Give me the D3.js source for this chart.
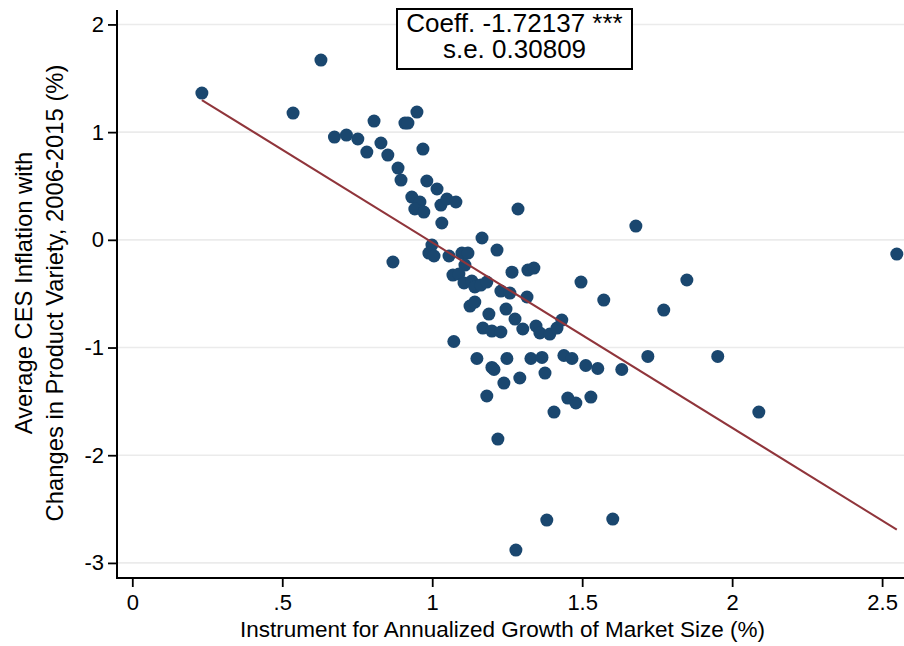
<!DOCTYPE html>
<html>
<head>
<meta charset="utf-8">
<script src="https://cdn.jsdelivr.net/npm/d3@7"></script>
<style>
  html, body { margin: 0; padding: 0; background: #ffffff; }
  svg { display: block; }
  text { font-family: "Liberation Sans", Arial, Helvetica, sans-serif; fill: #000; }
</style>
</head>
<body>
<script>
// ---- Data ----
const instrumentX = [
  0.232, 0.536, 0.629, 0.674, 0.714, 0.752, 0.806, 0.782, 0.829, 0.852,
  0.886, 0.896, 0.909, 0.919, 0.949, 0.969, 0.982, 1.016, 0.932, 0.959,
  0.942, 0.972, 1.029, 1.049, 1.079, 1.032, 1.286,
  0.869, 0.999, 0.989, 1.006, 1.056, 1.099, 1.119, 1.109, 1.166, 1.216,
  1.069, 1.089, 1.106, 1.132, 1.142, 1.162, 1.182, 1.126, 1.142, 1.189,
  1.229, 1.259, 1.246, 1.266, 1.319, 1.339, 1.316, 1.276, 1.496, 1.572,
  1.679, 1.772, 1.849, 2.549,
  1.169, 1.199, 1.229, 1.302, 1.346, 1.359, 1.392, 1.416, 1.432, 1.072,
  1.149, 1.199, 1.206, 1.249, 1.329, 1.366, 1.439, 1.466, 1.512, 1.552,
  1.632, 1.719, 1.952, 1.239, 1.292, 1.376, 1.182, 1.452, 1.479, 1.529,
  1.406, 2.089, 1.219, 1.382, 1.602, 1.279
];
const cesInflation = [
  1.363, 1.177, 1.669, 0.954, 0.973, 0.936, 1.103, 0.815, 0.899, 0.787,
  0.666, 0.555, 1.084, 1.084, 1.186, 0.843, 0.546, 0.472, 0.397, 0.351,
  0.286, 0.258, 0.323, 0.379, 0.351, 0.156, 0.286,
  -0.206, -0.048, -0.123, -0.150, -0.150, -0.123, -0.123, -0.234, 0.017, -0.095,
  -0.327, -0.318, -0.401, -0.383, -0.438, -0.420, -0.392, -0.615, -0.578, -0.689,
  -0.476, -0.494, -0.643, -0.300, -0.281, -0.262, -0.531, -0.736, -0.392, -0.559,
  0.128, -0.652, -0.373, -0.132,
  -0.819, -0.847, -0.856, -0.828, -0.800, -0.865, -0.875, -0.819, -0.745, -0.944,
  -1.102, -1.185, -1.204, -1.102, -1.102, -1.092, -1.074, -1.102, -1.167, -1.195,
  -1.204, -1.083, -1.083, -1.330, -1.283, -1.237, -1.450, -1.469, -1.515, -1.460,
  -1.599, -1.599, -1.850, -2.602, -2.593, -2.881
];
const xTickValues = [0, 0.5, 1, 1.5, 2, 2.5];
const xTickLabels = ["0", ".5", "1", "1.5", "2", "2.5"];
const yTickValues = [2, 1, 0, -1, -2, -3];
const yTickLabels = ["2", "1", "0", "-1", "-2", "-3"];
const fitSlope = -1.72137;
const fitIntercept = 1.697;
const annotationLines = ["Coeff. -1.72137 ***", "s.e. 0.30809"];
const xTitle = "Instrument for Annualized Growth of Market Size (%)";
const yTitleLines = ["Average CES Inflation with", "Changes in Product Variety, 2006-2015 (%)"];

// ---- Layout ----
const W = 904, H = 646;
const plotLeft = 117, plotRight = 904, plotTop = 10, plotBottom = 578;
const navy = "#1a476f", maroon = "#90353b";

const svg = d3.select("body").append("svg").attr("width", W).attr("height", H);

const x = d3.scaleLinear().domain([-0.051, 2.573]).range([plotLeft, plotRight]);
const y = d3.scaleLinear().domain([-3.140, 2.134]).range([plotBottom, plotTop]);

// gridlines
svg.append("g").selectAll("line").data(yTickValues).join("line")
  .attr("x1", plotLeft).attr("x2", plotRight)
  .attr("y1", d => y(d)).attr("y2", d => y(d))
  .attr("stroke", "#ebebeb").attr("stroke-width", 1.6);

// axes
const yAxis = d3.axisLeft(y).tickValues(yTickValues)
  .tickFormat((d, i) => yTickLabels[i]).tickSize(9).tickPadding(4);
const gy = svg.append("g").attr("transform", `translate(${plotLeft},0)`).call(yAxis);
const xAxis = d3.axisBottom(x).tickValues(xTickValues)
  .tickFormat((d, i) => xTickLabels[i]).tickSize(9).tickPadding(5);
const gx = svg.append("g").attr("transform", `translate(0,${plotBottom})`).call(xAxis);

[gx, gy].forEach(g => {
  g.select(".domain").remove();
  g.selectAll(".tick line").attr("stroke", "#000").attr("stroke-width", 1.8);
  g.selectAll(".tick text").style("font-size", "22px")
    .style("font-family", '"Liberation Sans", Arial, sans-serif').attr("fill", "#000");
});
gx.selectAll(".tick text").attr("dy", "0").attr("y", 32);

// axis lines
svg.append("line").attr("x1", plotLeft).attr("x2", plotLeft)
  .attr("y1", plotTop).attr("y2", plotBottom + 1)
  .attr("stroke", "#000").attr("stroke-width", 2);
svg.append("line").attr("x1", plotLeft - 1).attr("x2", plotRight)
  .attr("y1", plotBottom).attr("y2", plotBottom)
  .attr("stroke", "#000").attr("stroke-width", 2);

// points
const pts = instrumentX.map((v, i) => ({ x: v, y: cesInflation[i] }));
svg.append("g").selectAll("circle").data(pts).join("circle")
  .attr("cx", d => x(d.x)).attr("cy", d => y(d.y)).attr("r", 6.5)
  .attr("fill", navy);

// fitted line
const [xmin, xmax] = d3.extent(instrumentX);
svg.append("line")
  .attr("x1", x(xmin)).attr("y1", y(fitIntercept + fitSlope * xmin))
  .attr("x2", x(xmax)).attr("y2", y(fitIntercept + fitSlope * xmax))
  .attr("stroke", maroon).attr("stroke-width", 2);

// annotation box
const boxG = svg.append("g");
boxG.append("rect").attr("x", 397).attr("y", 9).attr("width", 235).attr("height", 60)
  .attr("fill", "#fff").attr("stroke", "#000").attr("stroke-width", 2);
boxG.selectAll("text").data(annotationLines).join("text")
  .attr("x", 514.5).attr("y", (d, i) => 32 + i * 26)
  .attr("text-anchor", "middle").style("font-size", "26px").text(d => d);

// axis titles
svg.append("text").attr("x", (plotLeft + plotRight) / 2 - 8).attr("y", 637)
  .attr("text-anchor", "middle").style("font-size", "22.5px").text(xTitle);
svg.append("g").attr("transform", `translate(0,293) rotate(-90)`)
  .selectAll("text").data(yTitleLines).join("text")
  .attr("x", 0).attr("y", (d, i) => 32 + i * 31)
  .attr("text-anchor", "middle").style("font-size", "23.8px").text(d => d);
</script>
</body>
</html>
